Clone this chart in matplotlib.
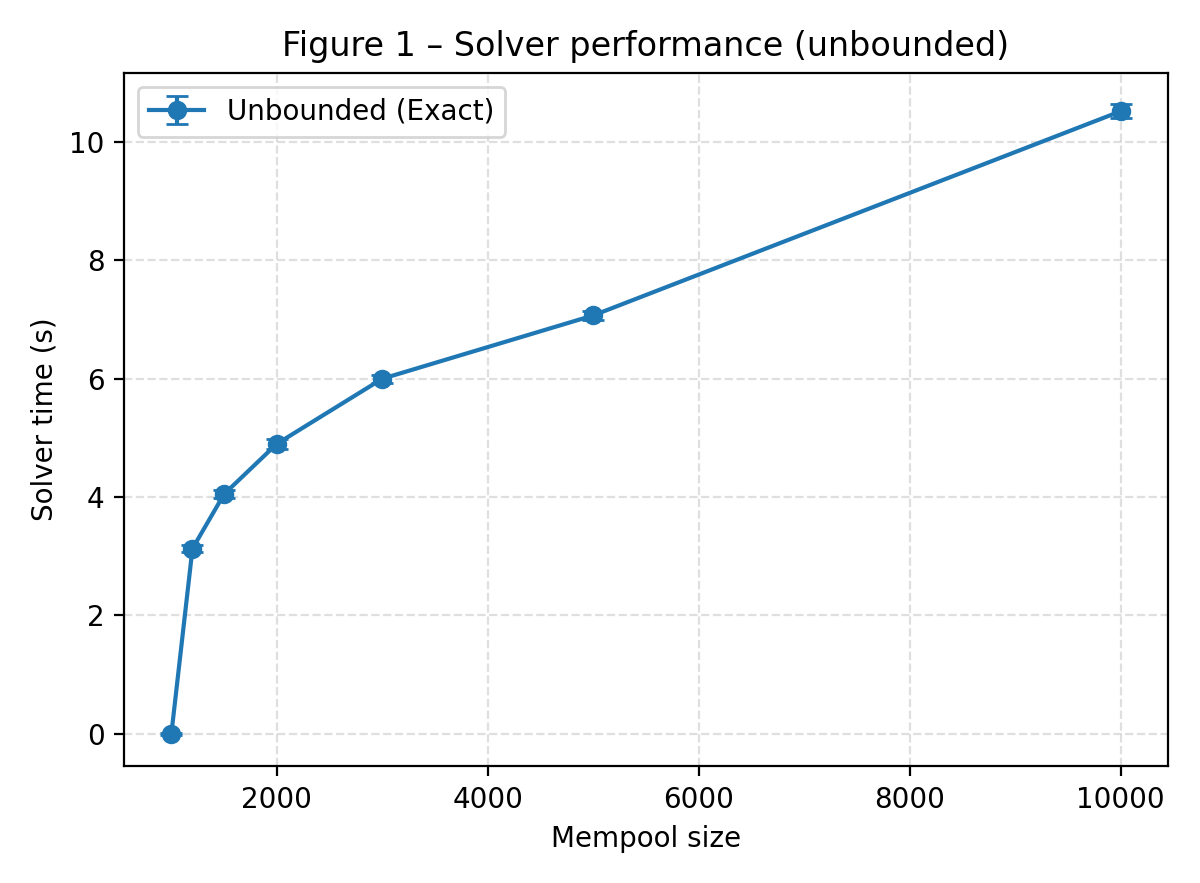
import matplotlib
matplotlib.use("Agg")
from matplotlib import pyplot as plt

mempool_sizes = [1000, 1200, 1500, 2000, 3000, 5000, 10000]
solver_times = [0.0, 3.13, 4.05, 4.90, 6.00, 7.07, 10.52]
solver_errs = [0.02, 0.06, 0.07, 0.08, 0.07, 0.07, 0.12]

fig, ax = plt.subplots(figsize=(6, 4.415), dpi=200)
ax.errorbar(mempool_sizes, solver_times, yerr=solver_errs, marker='o', capsize=4,
            label='Unbounded (Exact)')
ax.set_xlabel('Mempool size')
ax.set_ylabel('Solver time (s)')
ax.set_title('Figure 1 – Solver performance (unbounded)')
ax.grid(True, linestyle='--', alpha=0.4)
ax.legend(loc='upper left')
fig.tight_layout()
fig.savefig('out.png')
